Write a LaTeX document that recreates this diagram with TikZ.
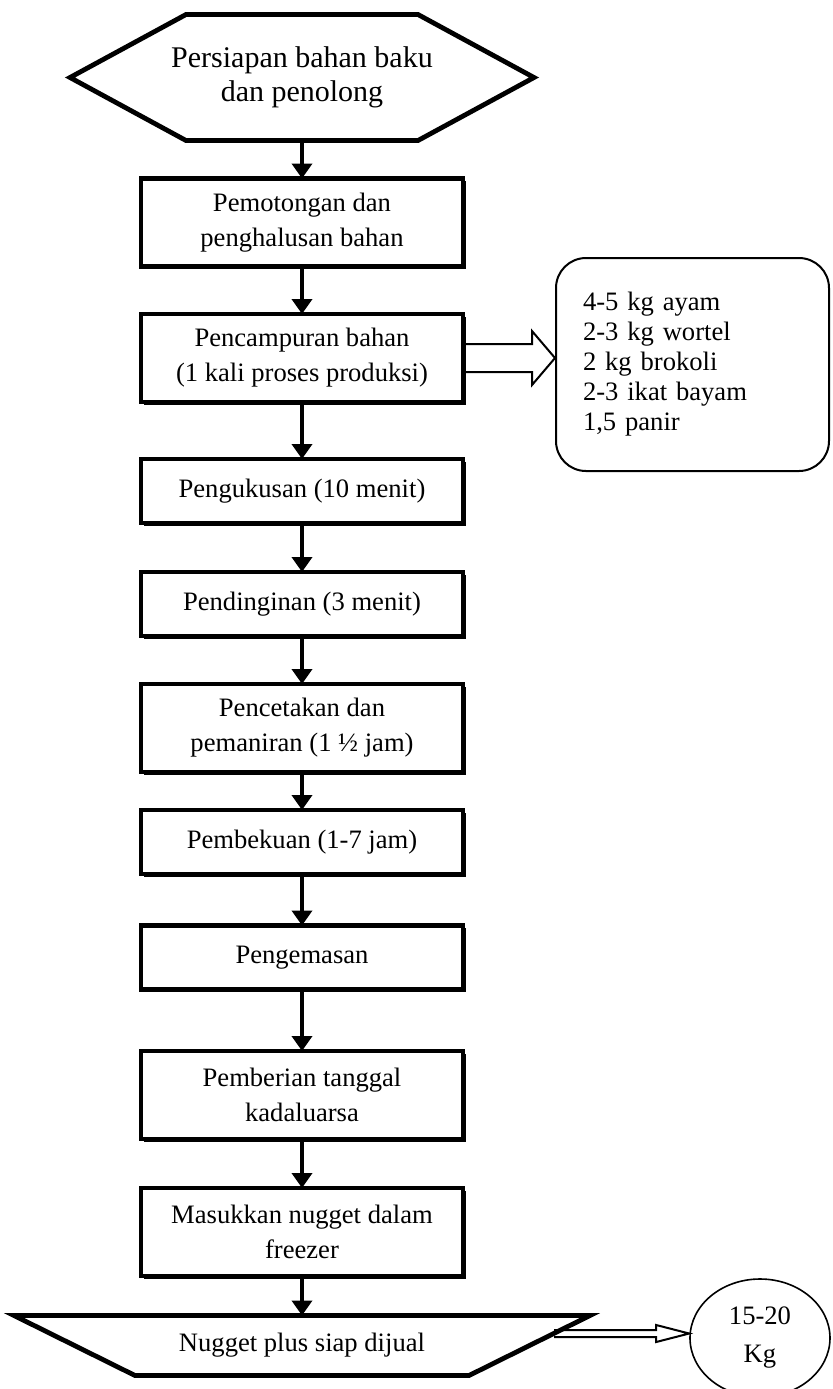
\documentclass[tikz,border=0pt]{standalone}
\usepackage{fontspec}
\setmainfont{Liberation Serif}
\usetikzlibrary{shapes.geometric, arrows.meta, positioning, shadows, calc}

\begin{document}
\begin{tikzpicture}[
    x=0.5pt, y=-0.5pt,
    node distance=24.5pt,
    font=\fontsize{13.3}{17.5}\selectfont,
    stepbox/.style={rectangle, draw, fill=white, line width=2.4pt, minimum width=161pt, minimum height=32pt, inner sep=2pt, outer sep=0pt, align=center, drop shadow={shadow xshift=1.4pt, shadow yshift=-1.4pt, fill=black, opacity=1}},
    tallbox/.style={stepbox, minimum height=44pt},
    termtext/.style={inner sep=0pt, outer sep=0pt, align=center},
    outline/.style={line width=2.4pt, line join=miter},
    flow/.style={-{Triangle[length=7.5pt, width=10pt]}, line width=2.3pt},
    blockarrow/.style={line width=1pt, line join=miter},
    note/.style={rectangle, rounded corners=15pt, draw, line width=1pt, minimum width=136.5pt, minimum height=106.5pt, text width=109.5pt, inner xsep=13.5pt, align=left, font=\fontsize{13.3}{15}\selectfont},
    qty/.style={ellipse, draw, line width=0.8pt, minimum width=70pt, minimum height=59pt, inner sep=0pt, align=center, font=\fontsize{13.3}{19}\selectfont}
]
    \useasboundingbox (0,0) rectangle (832,1389);

    % start
    \node[termtext, minimum height=63pt, font=\fontsize{15}{17}\selectfont] (prep) at (302,77.5) {Persiapan bahan baku\\dan penolong};
    \draw[outline] ($(prep)+(-232,0)$) -- ($(prep)+(-116,-63)$) -- ($(prep)+(116,-63)$) -- ($(prep)+(232,0)$) -- ($(prep)+(116,63)$) -- ($(prep)+(-116,63)$) -- cycle;

    % process steps
    \node[tallbox, below=19pt of prep] (cut) {Pemotongan dan\\penghalusan bahan};
    \node[tallbox, below=23.75pt of cut] (mix) {Pencampuran bahan\\(1 kali proses produksi)};
    \node[stepbox, below=28.5pt of mix] (steam) {Pengukusan (10 menit)};
    \node[stepbox, below=of steam] (cool) {Pendinginan (3 menit)};
    \node[tallbox, below=24pt of cool] (mould) {Pencetakan dan\\pemaniran (1 ½ jam)};
    \node[stepbox, below=19pt of mould] (freeze) {Pembekuan (1-7 jam)};
    \node[stepbox, below=25.75pt of freeze] (pack) {Pengemasan};
    \node[tallbox, below=30.75pt of pack] (label) {Pemberian tanggal\\kadaluarsa};
    \node[tallbox, below=of label] (store) {Masukkan nugget dalam\\freezer};

    % end
    \node[termtext, minimum height=30pt, below=19.75pt of store] (sale) {Nugget plus siap dijual};
    \draw[outline] ($(sale)+(-288,-30)$) -- ($(sale)+(288,-30)$) -- ($(sale)+(167,30)$) -- ($(sale)+(-167,30)$) -- cycle;

    % side notes
    \node[note] (bahan) at (692.5,364.5) {4-5 kg ayam\\2-3 kg wortel\\2 kg brokoli\\2-3 ikat bayam\\1,5 panir};
    \node[qty] (yield) at (760,1338) {15-20\\Kg};

    \draw[flow] (prep) -- (cut);
    \draw[flow] (cut) -- (mix);
    \draw[flow] (mix) -- (steam);
    \draw[flow] (steam) -- (cool);
    \draw[flow] (cool) -- (mould);
    \draw[flow] (mould) -- (freeze);
    \draw[flow] (freeze) -- (pack);
    \draw[flow] (pack) -- (label);
    \draw[flow] (label) -- (store);
    \draw[flow] (store) -- (sale);

    \coordinate (tipA) at (mix.east -| bahan.west);
    \draw[blockarrow] ($(mix.east)+(0,-14)$) -- ($(tipA)+(-23,-14)$) -- ($(tipA)+(-23,-27)$) -- (tipA) -- ($(tipA)+(-23,27)$) -- ($(tipA)+(-23,14)$) -- ($(mix.east)+(0,14)$);

    \coordinate (out) at ($(sale)+(252,-12)$);
    \coordinate (tipB) at (out -| yield.west);
    \draw[blockarrow] ($(out)+(0,-3.5)$) -- ($(tipB)+(-33,-3.5)$) -- ($(tipB)+(-33,-8.5)$) -- (tipB) -- ($(tipB)+(-33,8.5)$) -- ($(tipB)+(-33,3.5)$) -- ($(out)+(0,3.5)$);
\end{tikzpicture}
\end{document}
